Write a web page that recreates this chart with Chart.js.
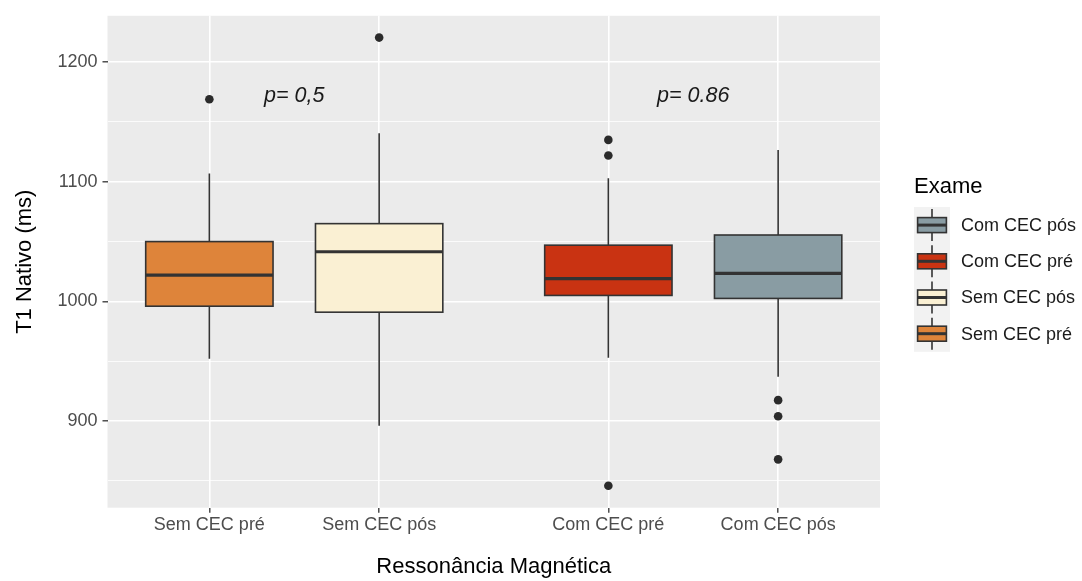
<!DOCTYPE html>
<html>
<head>
<meta charset="utf-8">
<script src="https://cdn.jsdelivr.net/npm/chart.js@4.4.1/dist/chart.umd.min.js"></script>
<style>
  html, body { margin: 0; padding: 0; background: #ffffff; }
  #wrap { width: 1082px; height: 581px; }
</style>
</head>
<body>
<div id="wrap"><canvas id="c" width="1082" height="581"></canvas></div>
<script>
// ---- data ----
const categories = ['Sem CEC pré', 'Sem CEC pós', 'Com CEC pré', 'Com CEC pós'];
const xPositions = [1, 2, 3.35, 4.35];
const whiskerLow = [952, 896, 953, 937];
const q1Values = [996, 991, 1005, 1002.5];
const medianValues = [1022, 1041.5, 1019, 1023.5];
const q3Values = [1050, 1065, 1047, 1055.5];
const whiskerHigh = [1107, 1140.5, 1103, 1126.5];
const outlierCategory = [0, 1, 2, 2, 2, 3, 3, 3];
const outlierValues = [1169, 1220.5, 1135, 1122, 846, 917.5, 904, 868];
const fillColors = ['#DE843A', '#FAF0D3', '#C93312', '#899CA3'];
const yTickValues = [850, 900, 950, 1000, 1050, 1100, 1150, 1200];
const legendTitle = 'Exame';
const legendOrder = [3, 2, 1, 0];
const annotationTexts = ['p= 0,5', 'p= 0.86'];
const annotationX = [1.5, 3.85];
const annotationY = [1172, 1172];

const FONT = "'Liberation Sans', Arial, sans-serif";
const BOX_HALF = 0.375;

const panelBg = {
  id: 'panelBg',
  beforeDraw(chart) {
    const {ctx, chartArea: a} = chart;
    ctx.save();
    ctx.fillStyle = '#EBEBEB';
    ctx.fillRect(a.left, a.top, a.right - a.left, a.bottom - a.top);
    ctx.restore();
  }
};

const boxes = {
  id: 'boxes',
  beforeDatasetsDraw(chart) {
    const {ctx} = chart;
    const xs = chart.scales.x, ys = chart.scales.y;
    ctx.save();
    for (let i = 0; i < categories.length; i++) {
      const xc = xs.getPixelForValue(xPositions[i]);
      const xl = xs.getPixelForValue(xPositions[i] - BOX_HALF);
      const xr = xs.getPixelForValue(xPositions[i] + BOX_HALF);
      const yWl = ys.getPixelForValue(whiskerLow[i]);
      const yQ1 = ys.getPixelForValue(q1Values[i]);
      const yMed = ys.getPixelForValue(medianValues[i]);
      const yQ3 = ys.getPixelForValue(q3Values[i]);
      const yWh = ys.getPixelForValue(whiskerHigh[i]);
      ctx.strokeStyle = '#333333';
      ctx.lineWidth = 1.6;
      ctx.beginPath();
      ctx.moveTo(xc, yWh); ctx.lineTo(xc, yQ3);
      ctx.moveTo(xc, yQ1); ctx.lineTo(xc, yWl);
      ctx.stroke();
      ctx.fillStyle = fillColors[i];
      ctx.fillRect(xl, yQ3, xr - xl, yQ1 - yQ3);
      ctx.strokeRect(xl, yQ3, xr - xl, yQ1 - yQ3);
      ctx.lineWidth = 3.2;
      ctx.beginPath();
      ctx.moveTo(xl, yMed); ctx.lineTo(xr, yMed);
      ctx.stroke();
    }
    ctx.restore();
  },
  afterDraw(chart) {
    const {ctx} = chart;
    const xs = chart.scales.x, ys = chart.scales.y;
    ctx.save();
    // annotations
    ctx.font = "italic 21.5px " + FONT;
    ctx.fillStyle = '#1a1a1a';
    ctx.textAlign = 'center';
    ctx.textBaseline = 'middle';
    for (let i = 0; i < annotationTexts.length; i++) {
      ctx.fillText(annotationTexts[i], xs.getPixelForValue(annotationX[i]), ys.getPixelForValue(annotationY[i]));
    }
    // legend
    const lx = 914, keyW = 36, keyH = 36.2, ly = 207;
    ctx.textAlign = 'left';
    ctx.fillStyle = '#000000';
    ctx.font = "22px " + FONT;
    ctx.fillText(legendTitle, 914, 187);
    ctx.fillStyle = '#F2F2F2';
    ctx.fillRect(lx, ly, keyW, keyH * legendOrder.length);
    ctx.font = "18px " + FONT;
    legendOrder.forEach((ci, k) => {
      const cy = ly + keyH * k + keyH / 2;
      const cx = lx + keyW / 2;
      ctx.strokeStyle = '#333333';
      ctx.lineWidth = 1.6;
      ctx.beginPath();
      ctx.moveTo(cx, cy - 16); ctx.lineTo(cx, cy + 16);
      ctx.stroke();
      ctx.fillStyle = fillColors[ci];
      ctx.fillRect(lx + 3.6, cy - 7.5, keyW - 7.2, 15);
      ctx.strokeRect(lx + 3.6, cy - 7.5, keyW - 7.2, 15);
      ctx.lineWidth = 3;
      ctx.beginPath();
      ctx.moveTo(lx + 3.6, cy); ctx.lineTo(lx + keyW - 3.6, cy);
      ctx.stroke();
      ctx.fillStyle = '#1a1a1a';
      ctx.fillText(categories[ci], 961, cy + 1);
    });
    ctx.restore();
  }
};

const outlierPoints = outlierValues.map((v, i) => ({x: xPositions[outlierCategory[i]], y: v}));

new Chart(document.getElementById('c'), {
  type: 'scatter',
  data: {
    datasets: [{
      label: 'outliers',
      data: outlierPoints,
      pointRadius: 4.3,
      pointHoverRadius: 4.3,
      pointBackgroundColor: '#2b2b2b',
      pointBorderColor: '#2b2b2b',
      pointBorderWidth: 0
    }]
  },
  options: {
    responsive: false,
    animation: false,
    events: [],
    layout: { padding: { left: 0, top: 15.7, right: 202, bottom: 0 } },
    plugins: { legend: { display: false }, tooltip: { enabled: false } },
    scales: {
      x: {
        type: 'linear',
        min: 0.4,
        max: 4.95,
        afterBuildTicks(scale) { scale.ticks = xPositions.map(v => ({value: v})); },
        afterFit(scale) { scale.height = 581 - 507.7; },
        border: { display: false },
        grid: { color: '#FFFFFF', lineWidth: 1.6, tickColor: '#333333', tickWidth: 1.3, tickLength: 5 },
        ticks: {
          autoSkip: false, maxRotation: 0, minRotation: 0, padding: 2,
          color: '#4D4D4D', font: { family: FONT, size: 18, lineHeight: 1.2 },
          callback(value) { const i = xPositions.indexOf(value); return i >= 0 ? categories[i] : ''; }
        },
        title: {
          display: true, text: 'Ressonância Magnética', color: '#000000',
          font: { family: FONT, size: 22, lineHeight: 1.2 }, padding: { top: 0, bottom: 0.5 }
        }
      },
      y: {
        type: 'linear',
        min: 827.6,
        max: 1238.7,
        afterBuildTicks(scale) { scale.ticks = yTickValues.map(v => ({value: v})); },
        afterFit(scale) { scale.width = 107.5; },
        border: { display: false },
        grid: {
          color: '#FFFFFF',
          lineWidth: (c) => (c.tick && c.tick.value % 100 === 0) ? 1.6 : 0.8,
          tickColor: (c) => (c.tick && c.tick.value % 100 === 0) ? '#333333' : 'rgba(0,0,0,0)',
          tickWidth: 1.3,
          tickLength: 5
        },
        ticks: {
          autoSkip: false, padding: 5,
          color: '#4D4D4D', font: { family: FONT, size: 18, lineHeight: 1.2 },
          callback(value) { return value % 100 === 0 ? String(value) : ''; }
        },
        title: {
          display: true, text: 'T1 Nativo (ms)', color: '#000000',
          font: { family: FONT, size: 22, lineHeight: 1.2 }, padding: { top: 11.8, bottom: 0 }
        }
      }
    }
  },
  plugins: [panelBg, boxes]
});
</script>
</body>
</html>
